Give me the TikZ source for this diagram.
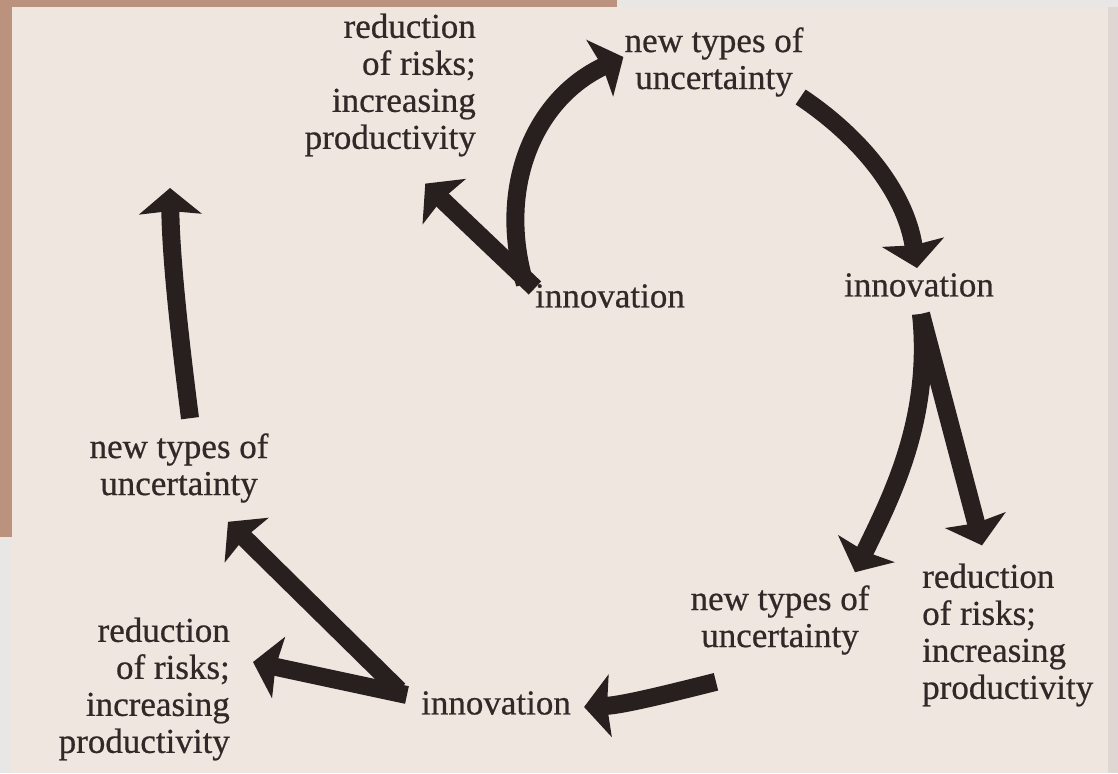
\documentclass[tikz,border=0pt]{standalone}
\usepackage{fontspec}
\setmainfont{Liberation Serif}[BoldFont={Liberation Serif}, BoldFeatures={FakeBold=0.6}]
\usetikzlibrary{arrows.meta,calc}
\definecolor{paperbg}{RGB}{239,230,224}
\definecolor{slidebrown}{RGB}{186,146,126}
\definecolor{scangray}{RGB}{232,231,230}
\definecolor{scanedge}{RGB}{222,215,211}
\definecolor{inkdark}{RGB}{40,32,30}
\definecolor{printtext}{RGB}{48,41,39}

\begin{document}
\begin{tikzpicture}[
  x=1pt, y=-1pt,
  every node/.style={font=\fontsize{35}{37}\selectfont\bfseries, text=printtext, inner sep=0pt},
  cyclearrow/.style={draw=inkdark, line width=18pt, -{Stealth[length=26pt,width=62pt,inset=3pt]}},
]
% Page background (scanned sheet with slide border)
\useasboundingbox (0,0) rectangle (1118,773);
\fill[paperbg] (0,0) rectangle (1118,773);
\fill[slidebrown] (0,0) rectangle (617,7);
\fill[scangray] (617,0) rectangle (1118,7);
\fill[slidebrown] (0,0) rectangle (12,537);
\fill[scangray] (0,537) rectangle (12,773);
\fill[scanedge] (1108,7) rectangle (1118,773);

% Labels of the spiral
\node[align=right, anchor=east] (redTL) at (476,85) {reduction\\of risks;\\increasing\\productivity};
\node[align=center] (nwtT) at (714,62) {new types of\\uncertainty};
\node (innovT) at (610,296) {innovation};
\node (innovR) at (919,285) {innovation};
\node[align=left, anchor=west] (redR) at (922,635) {reduction\\of risks;\\increasing\\productivity};
\node[align=center] (nwtB) at (780,620) {new types of\\uncertainty};
\node (innovB) at (496,703) {innovation};
\node[align=right, anchor=east] (redBL) at (230,689) {reduction\\of risks;\\increasing\\productivity};
\node[align=center] (nwtL) at (179,468) {new types of\\uncertainty};
\coordinate (loopend) at (170,188);

% Arrows
\draw[cyclearrow] ([shift={(0,-8)}]innovT.west) -- ([shift={(35,27)}]redTL.south);
\draw[cyclearrow] ([shift={(-10,-12)}]innovT.west) .. controls +(-28,-94) and +(-91,43) .. ([shift={(-1,-5)}]nwtT.west);
\draw[cyclearrow] ([shift={(-3,35)}]nwtT.east) .. controls +(57,38) and +(-12,-78) .. ([shift={(-2,-5)}]innovR.north);
\draw[cyclearrow] ([shift={(2,17)}]innovR.south) -- ([shift={(60,-18)}]redR.north west);
\draw[cyclearrow] ([shift={(2,17)}]innovR.south) .. controls +(11,106) and +(35,-73) .. ([shift={(75,-13)}]nwtB.north);
\draw[cyclearrow] ([shift={(-64,27)}]nwtB.south) .. controls +(-40,10) and +(40,-2) .. ([shift={(13,4)}]innovB.east);
\draw[cyclearrow] ([shift={(-14,-8)}]innovB.west) -- ([shift={(23,-27)}]redBL.east);
\draw[cyclearrow] ([shift={(-22,-13)}]innovB.west) -- ([shift={(49,19)}]nwtL.south);
\draw[cyclearrow] ([shift={(11,-15)}]nwtL.north) .. controls +(-10,-78) and +(1,72) .. (loopend);
\end{tikzpicture}
\end{document}
